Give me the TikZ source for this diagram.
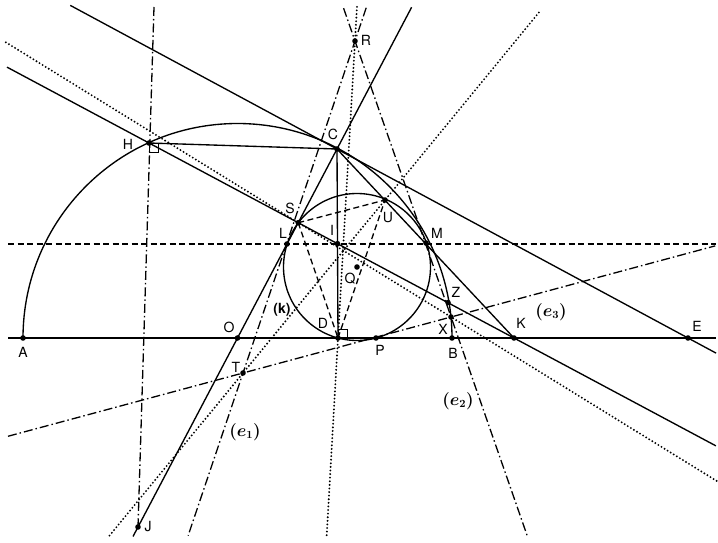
\documentclass[tikz,border=0pt]{standalone}
\usepackage{fontspec}
\setmainfont{TeX Gyre Heros}
\usetikzlibrary{calc}
\begin{document}
\begin{tikzpicture}[x=1pt,y=-1pt,
  pt/.style={circle,fill=black,inner sep=0pt,minimum size=5.6pt},
  lab/.style={inner sep=0pt,font=\fontsize{14}{16}\selectfont},
  mlab/.style={inner sep=0pt,font=\fontsize{16}{18}\selectfont\boldmath},
  solidl/.style={line width=1.35pt},
  dashl/.style={line width=1.3pt,dash pattern=on 6pt off 3.5pt},
  dotl/.style={line width=2.1pt,dash pattern=on 0pt off 3.6pt,line cap=round},
  dashdotl/.style={line width=1.3pt,dash pattern=on 9pt off 3pt on 1.5pt off 3pt}
]
\fill[white] (0,0) rectangle (718,543);
\useasboundingbox (0,0) rectangle (718,543);
% base points
\coordinate (O) at (237.5,338);
\coordinate (A) at (23,338);
\coordinate (B) at (452,338);
\coordinate (H) at (149,143);
\coordinate (C) at (337,149);
\coordinate (K) at (514,338);
\coordinate (E) at (688,338);
\coordinate (D) at (338,338);
\coordinate (P) at (376,338);
\coordinate (Q) at (357,267);
\coordinate (S) at (intersection of O--C and H--K);
\coordinate (L) at (287,244);
\coordinate (I) at (intersection of C--D and H--K);
\coordinate (M) at (426,243);
\coordinate (U) at (385,200);
\coordinate (Z) at (448,302.5);
\coordinate (X) at (451,317);
\coordinate (T) at (243,373);
\coordinate (J) at (138,527);
\coordinate (R) at (355,41);
% free ends of lines
\coordinate (ax1) at (8,338);
\coordinate (ax2) at (716,338);
\coordinate (hz1) at (8,244);
\coordinate (hz2) at (716,244);
\coordinate (tg1) at ($(C)!-0.76!(E)$);
\coordinate (tg2) at ($(E)!-0.08!(C)$);
\coordinate (hk1) at ($(H)!-0.389!(K)$);
\coordinate (hk2) at ($(K)!-0.553!(H)$);
\coordinate (oc1) at ($(O)!-1.05!(C)$);
\coordinate (oc2) at ($(C)!-0.75!(O)$);
\coordinate (vh1) at (154,7);
\coordinate (e1a) at ($(R)!-0.1!(T)$);
\coordinate (e1b) at ($(T)!-0.49!(R)$);
\coordinate (e2b) at (528,538);
\coordinate (e2a) at ($(R)!-0.066!(e2b)$);
\coordinate (e3a) at ($(T)!-1.13!(X)$);
\coordinate (e3b) at ($(X)!-1.27!(T)$);
\coordinate (tu1) at ($(T)!-0.94!(U)$);
\coordinate (tu2) at ($(U)!-1.09!(T)$);
\coordinate (sx1) at ($(S)!-1.914!(X)$);
\coordinate (sx2) at ($(S)!2.743!(X)$);
\coordinate (rd1) at ($(R)!-0.115!(D)$);
\coordinate (rd2) at ($(D)!-0.67!(R)$);

% solid lines and curves
\draw[solidl] (ax1) -- (ax2);
\draw[solidl] (A) arc[start angle=180,end angle=0,radius=214.5pt];
\draw[solidl] (Q) circle[radius=73.5pt];
\draw[solidl] (tg1) -- (tg2);
\draw[solidl] (hk1) -- (hk2);
\draw[solidl] (oc1) -- (oc2);
\draw[solidl] (C) -- (K);
\draw[solidl] (C) -- (D);
\draw[solidl] (H) -- (C);
\draw[line width=1pt] (H) rectangle ++(9,9);
\draw[line width=1pt] (D) rectangle ++(9,-9);
% dashed
\draw[dashl] (hz1) -- (hz2);
\draw[dashl] (S) -- (U);
\draw[dashl] (S) -- (D);
\draw[dashl] (D) -- (U);
% dotted
\draw[dotl] (sx1) -- (sx2);
\draw[dotl] (tu1) -- (tu2);
\draw[dotl] (rd1) -- (rd2);
% dash-dot
\draw[dashdotl] (vh1) -- (J);
\draw[dashdotl] (e1a) -- (e1b);
\draw[dashdotl] (e2a) -- (e2b);
\draw[dashdotl] (e3a) -- (e3b);

% points
\foreach \p in {A,O,D,P,B,K,E,C,H,S,L,I,U,M,Q,Z,X,T,J,R}
  \node[pt] (n\p) at (\p) {};

% labels
\node[lab] (lA) at (23,352) {A};
\node[lab] (lO) at (229,327) {O};
\node[lab] (lD) at (323,323) {D};
\node[lab] (lP) at (380,350) {P};
\node[lab] (lB) at (453,353) {B};
\node[lab] (lK) at (521,323) {K};
\node[lab] (lE) at (697,326) {E};
\node[lab] (lC) at (333,134) {C};
\node[lab] (lH) at (128,144) {H};
\node[lab] (lS) at (290,208) {S};
\node[lab] (lL) at (283,233) {L};
\node[lab] (lI) at (332,230) {I};
\node[lab] (lU) at (388,218) {U};
\node[lab] (lM) at (437,233) {M};
\node[lab] (lQ) at (350,279) {Q};
\node[lab] (lZ) at (456,292) {Z};
\node[lab] (lX) at (443,329) {X};
\node[lab] (lT) at (236,367) {T};
\node[lab] (lJ) at (148,527) {J};
\node[lab] (lR) at (366,40) {R};
\node[lab,font=\fontsize{14}{16}\selectfont\bfseries] (lk) at (282,310) {(k)};
\node[mlab] (le1) at (245,432) {$(e_1)$};
\node[mlab] (le2) at (458,401) {$(e_2)$};
\node[mlab] (le3) at (551,312) {$(e_3)$};
\end{tikzpicture}
\end{document}
